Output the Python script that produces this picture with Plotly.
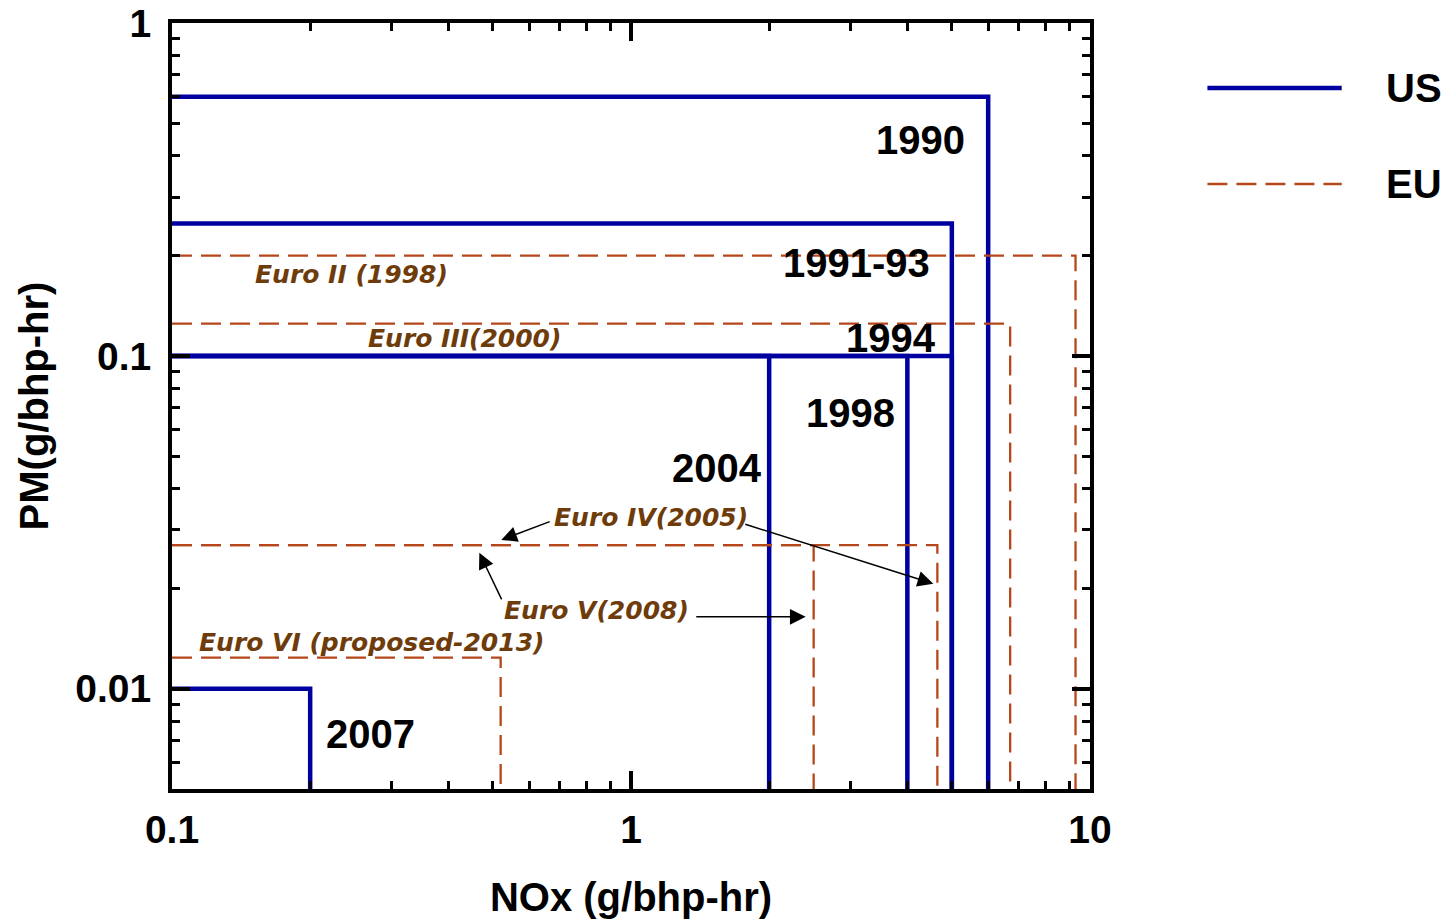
import numpy as np
import plotly.graph_objects as go

# ---------------- data ----------------
Y_MIN = 0.005
X_MIN = 0.1

us_labels = ["1990", "1991-93", "1994", "1998", "2004", "2007"]
us_nox = [6.0, 5.0, 5.0, 4.0, 2.0, 0.2]
us_pm = [0.6, 0.25, 0.1, 0.1, 0.1, 0.01]

eu_labels = ["Euro II (1998)", "Euro III(2000)", "Euro IV(2005)", "Euro V(2008)", "Euro VI (proposed-2013)"]
eu_nox = [9.3, 6.7, 4.65, 2.5, 0.52]
eu_pm = [0.2, 0.125, 0.027, 0.027, 0.0124]

# label anchor positions (data units)
us_label_x = [4.27, 3.10, 3.69, 3.01, 1.54, 0.271]
us_label_y = [0.445, 0.190, 0.113, 0.0674, 0.0461, 0.00733]
eu_label_x = [0.246, 0.434, 1.105, 0.843, 0.272]
eu_label_y = [0.175, 0.1125, 0.0326, 0.01715, 0.01375]

# arrows: (tail_x, tail_y, head_x, head_y) in data units
arrows = [
    (0.670, 0.0319, 0.5216, 0.0280),
    (1.761, 0.0313, 4.557, 0.02067),
    (0.5244, 0.01837, 0.4673, 0.02561),
    (1.377, 0.01645, 2.402, 0.01645),
]

x_tickvals = [0.1, 1, 10]
x_ticktext = ["0.1", "1", "10"]
y_tickvals = [0.01, 0.1, 1]
y_ticktext = ["0.01", "0.1", "1"]
minor_mult = [2, 3, 4, 5, 6, 7, 8, 9]
x_minor = [m * d for d in [0.1, 1] for m in minor_mult]
y_minor = [m * d for d in [0.001, 0.01, 0.1] for m in minor_mult]

BLUE = "#0000A0"
RUST = "#B5471B"
BROWN = "#6E3C0A"
FONT = "Liberation Sans, Arial, sans-serif"

fig = go.Figure()

for lab, nx, pm in zip(us_labels, us_nox, us_pm):
    fig.add_trace(go.Scatter(
        x=[X_MIN, nx, nx], y=[pm, pm, Y_MIN * 0.9], mode="lines",
        line=dict(color=BLUE, width=4.5), name=lab, showlegend=False,
        hoverinfo="skip"))

for lab, nx, pm in zip(eu_labels, eu_nox, eu_pm):
    fig.add_trace(go.Scatter(
        x=[X_MIN, nx, nx], y=[pm, pm, Y_MIN * 0.9], mode="lines",
        line=dict(color=RUST, width=2.3, dash="20px,9px"), name=lab,
        showlegend=False, hoverinfo="skip"))

annotations = []
for lab, x, y in zip(us_labels, us_label_x, us_label_y):
    annotations.append(dict(x=np.log10(x), y=np.log10(y), xref="x", yref="y",
                            text=lab, showarrow=False,
                            font=dict(family=FONT, size=40, color="black", weight="bold")))
for lab, x, y in zip(eu_labels, eu_label_x, eu_label_y):
    annotations.append(dict(x=np.log10(x), y=np.log10(y), xref="x", yref="y",
                            text="<i>" + lab + "</i>", showarrow=False,
                            font=dict(family="DejaVu Sans", size=25, color=BROWN, weight="bold")))
for tx, ty, hx, hy in arrows:
    annotations.append(dict(x=np.log10(hx), y=np.log10(hy), ax=np.log10(tx), ay=np.log10(ty),
                            xref="x", yref="y", axref="x", ayref="y", text="",
                            showarrow=True, arrowhead=2, arrowsize=2.1, arrowwidth=1.5,
                            arrowcolor="black"))

# manual legend
legend_items = [("US", BLUE, 4.5, "solid", 0.9151), ("EU", RUST, 2.3, "20px,9px", 0.7898)]
shapes = []
for name, col, w, dash, py in legend_items:
    shapes.append(dict(type="line", xref="paper", yref="paper", x0=1.1279, x1=1.2742,
                       y0=py, y1=py, line=dict(color=col, width=w, dash=dash)))
    annotations.append(dict(x=1.3205, y=py, xref="paper", yref="paper", text=name,
                            showarrow=False, xanchor="left", yanchor="middle",
                            font=dict(family=FONT, size=40, color="black", weight="bold")))

axis_common = dict(
    type="log", showline=True, linewidth=4, linecolor="black", mirror="ticks",
    ticks="inside", ticklen=18, tickwidth=4, tickcolor="black", showgrid=False,
    zeroline=False, automargin=False, ticklabeloverflow="allow",
    tickfont=dict(family=FONT, size=39, color="black", weight="bold"),
)

fig.update_layout(
    width=1448, height=924,
    margin=dict(l=171.5, r=357.5, t=23, b=135),
    paper_bgcolor="white", plot_bgcolor="white",
    xaxis=dict(range=[np.log10(X_MIN), 1], tickvals=x_tickvals, ticktext=x_ticktext,
               ticklabelstandoff=3,
               minor=dict(tickvals=x_minor, ticks="inside", ticklen=8, tickwidth=3,
                          tickcolor="black", showgrid=False),
               title=dict(text="NOx (g/bhp-hr)", standoff=34,
                          font=dict(family=FONT, size=40, color="black", weight="bold")),
               **axis_common),
    yaxis=dict(range=[np.log10(Y_MIN), 0], tickvals=y_tickvals, ticktext=y_ticktext,
               ticklabelstandoff=9,
               minor=dict(tickvals=y_minor, ticks="inside", ticklen=8, tickwidth=3,
                          tickcolor="black", showgrid=False),
               title=dict(text="PM(g/bhp-hr)", standoff=15,
                          font=dict(family=FONT, size=40, color="black", weight="bold")),
               **axis_common),
    annotations=annotations, shapes=shapes, showlegend=False,
)

fig.write_html("out.html", config={"displayModeBar": False},
               post_script="document.body.style.margin='0';")
